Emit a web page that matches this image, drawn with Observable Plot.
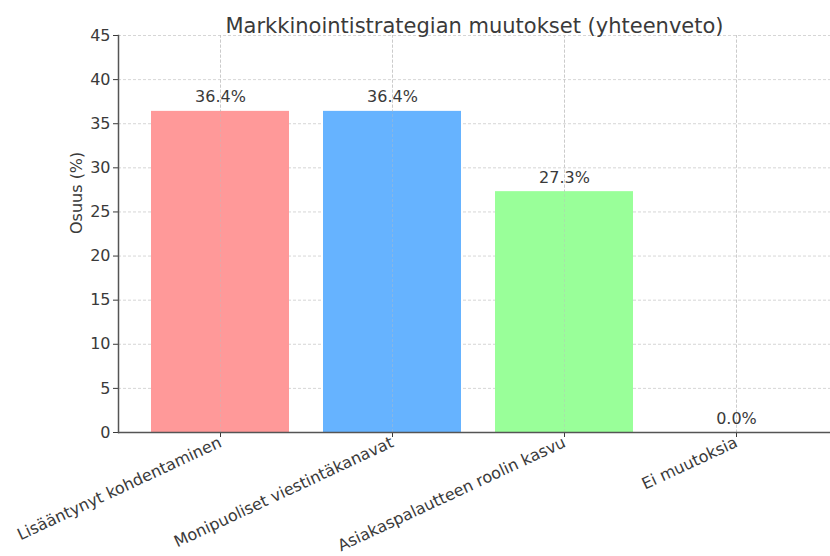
<!DOCTYPE html>
<html>
<head>
<meta charset="utf-8">
<script src="https://cdn.jsdelivr.net/npm/d3@7"></script>
<script src="https://cdn.jsdelivr.net/npm/@observablehq/plot@0.6"></script>
<style>
  html, body { margin: 0; padding: 0; background: white; }
  #chart svg { overflow: hidden; max-width: none; }
</style>
</head>
<body>
<div id="chart"></div>
<script>
const categories = ["Lisääntynyt kohdentaminen", "Monipuoliset viestintäkanavat", "Asiakaspalautteen roolin kasvu", "Ei muutoksia"];
const values = [36.4, 36.4, 27.3, 0.0];
const yTicks = [0, 5, 10, 15, 20, 25, 30, 35, 40, 45];
const title = "Markkinointistrategian muutokset (yhteenveto)";
const yLabel = "Osuus (%)";

const barColors = ["#ff9999", "#66b3ff", "#99ff99", "#ffcc99"];
const data = categories.map((c, i) => ({category: c, value: values[i]}));
const ink = "#3a3a3a";

const chart = Plot.plot({
  width: 830,
  height: 556,
  marginLeft: 118,
  marginRight: 0,
  marginTop: 35,
  marginBottom: 124,
  style: {fontFamily: "DejaVu Sans", fontSize: "15px", color: ink, background: "white"},
  x: {domain: categories, range: [117.2, 838.8], paddingInner: 0.2, paddingOuter: 0.19},
  y: {domain: [0, 45]},
  color: {domain: categories, range: barColors},
  marks: [
    Plot.ruleY(yTicks, {stroke: "#cccccc", strokeDasharray: "3,2", strokeWidth: 0.8}),
    Plot.ruleX(categories, {x: d => d, stroke: "#cccccc", strokeDasharray: "3,2", strokeWidth: 0.8}),
    Plot.barY(data, {x: "category", y: "value", fill: "category"}),
    Plot.ruleX(categories, {x: d => d, y1: 0, y2: 45, stroke: "#bbbbbb", strokeDasharray: "3,2", strokeWidth: 0.8, strokeOpacity: 0.5}),
    Plot.text(data, {x: "category", y: "value", text: d => d.value.toFixed(1) + "%", dy: -14, fontSize: 16, fill: ink}),
    Plot.axisY({ticks: yTicks, tickSize: 5, tickPadding: 3, fontSize: 16, label: null, color: ink}),
    Plot.axisX({tickSize: 5, tickRotate: -25, tickPadding: 4, fontSize: 16, label: null, color: ink}),
    Plot.frame({anchor: "left", stroke: "#555", strokeWidth: 1.5}),
    Plot.ruleY([0], {stroke: "#555", strokeWidth: 1.5}),
    Plot.text([yLabel], {frameAnchor: "left", dx: -42, rotate: -90, fontSize: 16, fill: ink}),
    Plot.text([title], {frameAnchor: "top", dy: -17, fontSize: 21, fill: ink})
  ]
});
document.getElementById("chart").appendChild(chart);
</script>
</body>
</html>
